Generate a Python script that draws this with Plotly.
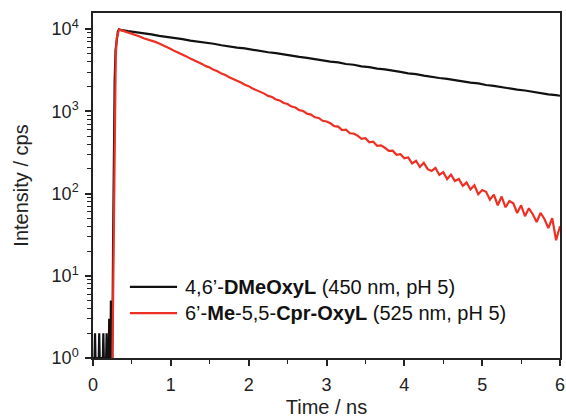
import plotly.graph_objects as go

# ---- data ----
# black: 4,6'-DMeOxyL (450 nm, pH 5)
t_black_pre = [0.000, 0.020, 0.026, 0.032, 0.074, 0.080, 0.086, 0.127, 0.133, 0.139,
               0.169, 0.175, 0.181, 0.202, 0.208, 0.214, 0.224, 0.230, 0.236, 0.248,
               0.258, 0.268, 0.278, 0.290, 0.305, 0.320, 0.335]
y_black_pre = [1, 1, 2, 1, 1, 2, 1, 1, 2, 1,
               1, 2, 1, 1, 3, 1, 1, 5, 1, 1,
               25, 350, 2300, 5600, 8200, 9400, 9950]
t_black_dec = [0.35 + 0.1 * k for k in range(57)] + [6.0]
y_black_dec = [9770, 9420, 9180, 8830, 8600, 8260, 8060, 7740, 7550, 7240,
               7070, 6790, 6630, 6350, 6210, 5950, 5810, 5570, 5450, 5220,
               5100, 4890, 4780, 4580, 4470, 4290, 4190, 4010, 3930, 3760,
               3680, 3520, 3450, 3300, 3230, 3090, 3020, 2890, 2830, 2710,
               2650, 2540, 2480, 2380, 2330, 2225, 2180, 2085, 2040, 1955,
               1910, 1830, 1790, 1715, 1675, 1605, 1570, 1545]

# red: 6'-Me-5,5-Cpr-OxyL (525 nm, pH 5)
t_red_pre = [0.250, 0.262, 0.272, 0.282, 0.292, 0.305, 0.320, 0.335]
y_red_pre = [1, 20, 300, 1500, 4500, 7800, 9300, 9900]
t_red_dec = [round(0.35 + 0.05 * k, 2) for k in range(114)]
y_red_dec = [9772, 9450, 9010, 8760, 8360, 8120, 7740, 7520, 7180, 6980, 6650,
             6360, 5980, 5730, 5390, 5160, 4850, 4650, 4370, 4190, 3930,
             3770, 3540, 3400, 3190, 3060, 2870, 2760, 2590, 2480, 2330,
             2240, 2100, 2020, 1890, 1815, 1720,
             1640, 1538, 1490, 1392, 1350, 1262, 1225, 1140, 1110, 1032,
             1008, 935, 912, 845, 830, 766, 752,
             715, 660, 650, 590, 598, 540, 535, 505, 462, 470,
             420, 428, 380, 385, 360, 330, 332, 296, 300, 268,
             275, 232, 250, 210, 236, 198, 188, 205, 168, 182,
             150, 170, 142, 150, 124, 136, 112, 126, 98, 110,
             105, 84, 97, 72, 92, 68, 81, 76, 58, 72,
             53, 66, 56, 45, 58, 49, 38, 50, 27, 40]

t_black = t_black_pre + t_black_dec
y_black = y_black_pre + y_black_dec
t_red = t_red_pre + t_red_dec
y_red = y_red_pre + y_red_dec

series_names = ["4,6’-<b>DMeOxyL</b> (450 nm, pH 5)",
                "6’-<b>Me</b>-5,5-<b>Cpr-OxyL</b> (525 nm, pH 5)"]

x_ticks = [0, 1, 2, 3, 4, 5, 6]
y_tickvals = [1, 10, 100, 1000, 10000]
y_ticktext = ["10<sup>0</sup>", "10<sup>1</sup>", "10<sup>2</sup>", "10<sup>3</sup>", "10<sup>4</sup>"]

FONT = "Liberation Sans, Arial, sans-serif"
BLACK = "#111111"
RED = "rgb(238,48,36)"
colors = [BLACK, RED]

fig = go.Figure()
fig.add_trace(go.Scatter(x=t_black, y=y_black, mode="lines",
                         line=dict(color=BLACK, width=2.2), name=series_names[0]))
fig.add_trace(go.Scatter(x=t_red, y=y_red, mode="lines",
                         line=dict(color=RED, width=2.2), name=series_names[1]))

# legend drawn inside the plot (line sample + label), positioned in paper coords
leg_y = [0.206, 0.130]
for name, col, ly in zip(series_names, colors, leg_y):
    fig.add_shape(type="line", xref="paper", yref="paper",
                  x0=0.079, x1=0.180, y0=ly, y1=ly,
                  line=dict(color=col, width=2.2))
    fig.add_annotation(xref="paper", yref="paper", x=0.193, y=ly,
                       xanchor="left", yanchor="middle", showarrow=False,
                       text=name, font=dict(size=20, color="#111"))

fig.update_layout(
    width=566, height=418,
    margin=dict(l=93, r=6, t=13, b=60),
    paper_bgcolor="white", plot_bgcolor="white",
    font=dict(family=FONT, size=17, color="#222"),
    showlegend=False,
)
fig.update_xaxes(
    range=[0, 6], tickvals=x_ticks, ticks="outside", ticklen=6, tickwidth=1.5,
    tickcolor="#222", showline=True, linecolor="#222", linewidth=1.5, mirror=True,
    showgrid=False, zeroline=False, automargin=False, ticklabelstandoff=4,
    minor=dict(dtick=0.5, ticks="outside", ticklen=4, tickwidth=1.2, tickcolor="#222", showgrid=False),
    title=dict(text="Time / ns", font=dict(size=20), standoff=10),
    tickfont=dict(size=18),
)
fig.update_yaxes(
    type="log", range=[0, 4.195], tickvals=y_tickvals, ticktext=y_ticktext,
    ticks="outside", ticklen=6, tickwidth=1.5, tickcolor="#222",
    showline=True, linecolor="#222", linewidth=1.5, mirror=True,
    showgrid=False, zeroline=False, automargin=False, ticklabelstandoff=3,
    minor=dict(tickvals=[m * 10 ** d for d in range(4) for m in range(2, 10)],
               ticks="outside", ticklen=4, tickwidth=1.2, tickcolor="#222", showgrid=False),
    title=dict(text="Intensity / cps", font=dict(size=20), standoff=18),
    tickfont=dict(size=18),
)

fig.write_html("out.html", config={"displayModeBar": False},
               post_script="document.body.style.margin='0';document.body.style.overflow='hidden';")
